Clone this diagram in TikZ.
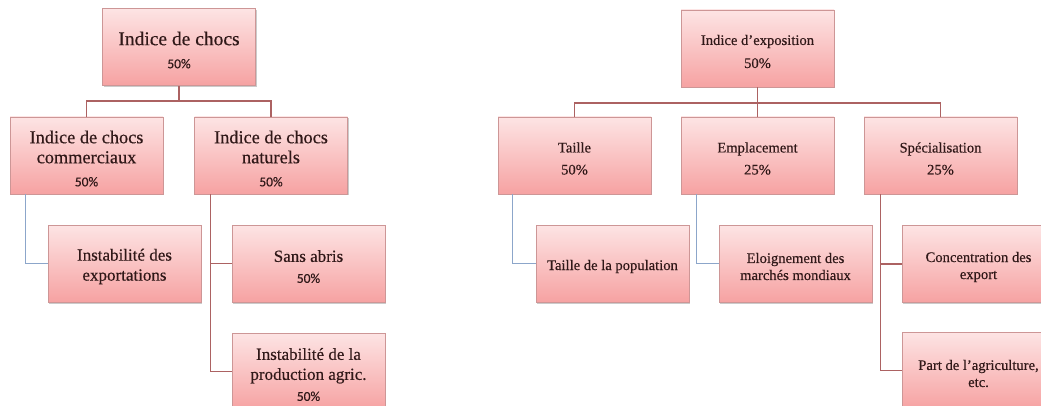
\documentclass[tikz,border=0pt]{standalone}
\usepackage{fontspec}
\setmainfont{Liberation Serif}[FakeBold=0.4]
\newfontfamily\pctfont{Carlito}[FakeBold=0.3]
\usetikzlibrary{shadows}
\definecolor{pinktop}{RGB}{253,228,228}
\definecolor{pinkbot}{RGB}{246,162,162}
\definecolor{boxborder}{RGB}{205,150,150}
\definecolor{textcol}{RGB}{48,24,24}
\definecolor{redline}{RGB}{172,98,98}
\definecolor{blueline}{RGB}{140,166,202}
\tikzset{
  box/.style={draw=boxborder, line width=0.7pt, top color=pinktop, bottom color=pinkbot,
    minimum width=153pt, minimum height=77pt, inner sep=0pt,
    drop shadow={shadow xshift=1.2pt, shadow yshift=-1.5pt, fill=black!45, opacity=0.45}},
  boxtext/.style={align=center, text=textcol, inner sep=0pt, yshift=-3pt},
  bigtxt/.style={boxtext, font=\fontsize{19.5}{21}\selectfont},
  midtxt/.style={boxtext, font=\fontsize{18.3}{20}\selectfont},
  lowtxt/.style={boxtext, font=\fontsize{17}{20}\selectfont},
  rtxt/.style={boxtext, font=\fontsize{14.6}{17}\selectfont},
  redconn/.style={draw=redline, line width=1.1pt},
  blueconn/.style={draw=blueline, line width=1.1pt},
}
\newcommand{\pctl}{\pctfont\fontsize{13.5}{16}\selectfont 50\%}
\begin{document}
\begin{tikzpicture}[x=1pt,y=-1pt]
\useasboundingbox (0,0) rectangle (1041,406);
% ---- left tree
\node[box,label={[bigtxt]center:{Indice de chocs\\[2pt]{\pctl}}}] (A) at (179,47) {};
\node[box,label={[midtxt]center:{Indice de chocs\\commerciaux\\[3pt]{\pctl}}}] (B1) at (86.5,155.5) {};
\node[box,label={[midtxt]center:{Indice de chocs\\naturels\\[3pt]{\pctl}}}] (B2) at (271,155.5) {};
\node[box,label={[lowtxt]center:{Instabilité des\\exportations}}] (C1) at (124.5,263.5) {};
\node[box,label={[lowtxt]center:{Sans abris\\[1pt]{\pctl}}}] (C2) at (308.5,263.5) {};
\node[box,label={[lowtxt]center:{Instabilité de la\\production agric.\\[1pt]{\pctl}}}] (C3) at (308.5,371.5) {};
\coordinate (jl) at (179,101);
\draw[redconn] (A.south) -- (jl) -| (B1.north);
\draw[redconn] (jl) -| (B2.north);
\draw[blueconn] ([xshift=16pt]B1.south west) |- (C1.west);
\draw[redconn] ([xshift=16pt]B2.south west) |- (C2.west);
\draw[redconn] ([xshift=16pt]B2.south west) |- (C3.west);
% ---- right tree
\node[box,label={[rtxt]center:{Indice d’exposition\\[6pt]50\%}}] (D) at (757.5,48.5) {};
\node[box,label={[rtxt]center:{Taille\\[5pt]50\%}}] (E1) at (574.5,155.5) {};
\node[box,label={[rtxt]center:{Emplacement\\[5pt]25\%}}] (E2) at (757.5,155.5) {};
\node[box,label={[rtxt]center:{Spécialisation\\[5pt]25\%}}] (E3) at (940.5,155.5) {};
\node[box,label={[rtxt]center:{Taille de la population}}] (F1) at (612.5,263.5) {};
\node[box,label={[rtxt]center:{Eloignement des\\marchés mondiaux}}] (F2) at (795.5,263.5) {};
\node[box,label={[rtxt]center:{Concentration des\\export}}] (F3) at (978.5,264) {};
\node[box,label={[rtxt]center:{Part de l’agriculture,\\etc.}}] (F4) at (978.5,370.5) {};
\coordinate (jr) at (757.5,103);
\draw[redconn] (D.south) -- (jr) -| (E1.north);
\draw[redconn] (jr) -- (E2.north);
\draw[redconn] (jr) -| (E3.north);
\draw[blueconn] ([xshift=15pt]E1.south west) |- (F1.west);
\draw[blueconn] ([xshift=16pt]E2.south west) |- (F2.west);
\draw[redconn] ([xshift=17pt]E3.south west) |- (F3.west);
\draw[redconn] ([xshift=17pt]E3.south west) |- (F4.west);
\end{tikzpicture}
\end{document}
